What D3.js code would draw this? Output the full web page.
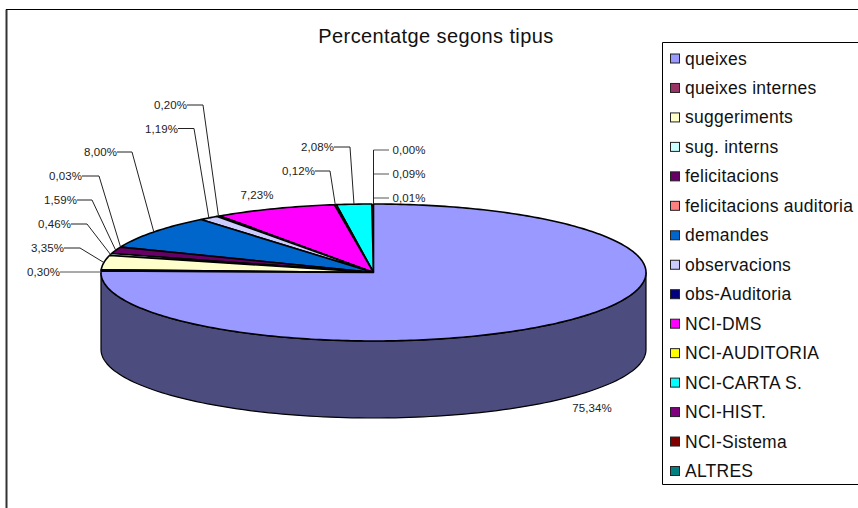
<!DOCTYPE html>
<html><head><meta charset="utf-8">
<script src="https://cdn.jsdelivr.net/npm/d3@7/dist/d3.min.js"></script>
<style>html,body{margin:0;padding:0;background:#fff}svg{display:block}text{font-family:"Liberation Sans",Arial,sans-serif}</style>
</head><body><svg id="c" width="858" height="508"></svg>
<script>
const categories=["queixes","queixes internes","suggeriments","sug. interns","felicitacions","felicitacions auditoria","demandes","observacions","obs-Auditoria","NCI-DMS","NCI-AUDITORIA","NCI-CARTA S.","NCI-HIST.","NCI-Sistema","ALTRES"];
const values=[75.34,0.30,3.35,0.46,1.59,0.03,8.00,1.19,0.20,7.23,0.12,2.08,0.01,0.09,0.00];
const colors=["#9999ff","#993366","#ffffcc","#ccffff","#660066","#ff8080","#0066cc","#ccccff","#000080","#ff00ff","#ffff00","#00ffff","#800080","#800000","#008080"];
const title="Percentatge segons tipus";

// layout of the hand-placed data labels, by slice index: label anchor and leader elbow
const labelLayout={
 0:{x:592,y:408,a:"middle"},
 1:{x:60,y:272,a:"end",elbow:null},
 2:{x:64,y:248,a:"end",elbow:80},
 3:{x:71,y:224,a:"end",elbow:87},
 4:{x:77,y:200,a:"end",elbow:92},
 5:{x:82,y:176,a:"end",elbow:99},
 6:{x:117,y:152,a:"end",elbow:132},
 7:{x:178,y:128.5,a:"end",elbow:194},
 8:{x:187,y:105,a:"end",elbow:203},
 9:{x:257,y:195,a:"middle",noLine:true},
 10:{x:315,y:171,a:"end",elbow:330},
 11:{x:334,y:147,a:"end",elbow:350},
 12:{x:392.5,y:198,a:"start",right:389},
 13:{x:392.5,y:174,a:"start",right:389},
 14:{x:392.5,y:150,a:"start",right:389}
};

const svg=d3.select("#c");
const cx=373.5,cy=272.5,rx=272.5,ry=68.5,depth=77;
const fmt=v=>v.toFixed(2).replace(".",",")+"%";

// frame
svg.append("path").attr("d","M6.5,508V9.5").attr("stroke","#333").attr("stroke-width",2).attr("fill","none");
svg.append("path").attr("d","M6,9.5H858").attr("stroke","#000").attr("stroke-width",1).attr("fill","none");

// title
svg.append("text").attr("x",436).attr("y",43).attr("text-anchor","middle").attr("font-size",20).attr("letter-spacing",0.4).attr("fill","#111").text(title);

// pie
const pie=d3.pie().sort(null).value(d=>d)(values);
const px=a=>cx+rx*Math.sin(a), py=a=>cy-ry*Math.cos(a);
const g=svg.append("g");
const line=d3.line();

// side wall: only the front half (pi/2..3pi/2) is visible
pie.forEach((s,i)=>{
  const a0=Math.max(s.startAngle,Math.PI/2), a1=Math.min(s.endAngle,3*Math.PI/2);
  if(a1<=a0) return;
  const arcA=d3.range(0,121).map(k=>a0+(a1-a0)*k/120);
  const pts=arcA.map(a=>[px(a),py(a)]).concat(arcA.slice().reverse().map(a=>[px(a),py(a)+depth]));
  g.append("path").attr("d",line(pts)+"Z")
    .attr("fill",d3.rgb(colors[i]).darker(1.98).formatHex()).attr("stroke","#000").attr("stroke-width",1.2).attr("stroke-linejoin","round");
});
// top face, last slice first, so that the near-zero slices stay hidden under their neighbours
pie.slice().reverse().forEach(s=>{
  const i=s.index;
  const n=Math.max(2,Math.ceil((s.endAngle-s.startAngle)*60));
  const pts=[[cx,cy]].concat(d3.range(0,n+1).map(k=>{const a=s.startAngle+(s.endAngle-s.startAngle)*k/n;return [px(a),py(a)];}));
  const tiny=values[i]<0.1;
  g.append("path").attr("d",line(pts)+"Z")
    .attr("fill",colors[i]).attr("stroke",tiny?"none":"#000").attr("stroke-width",1.6).attr("stroke-linejoin","round");
});

// leaders and labels
const lg=svg.append("g");
pie.forEach((s,i)=>{
  const L=labelLayout[i], mid=(s.startAngle+s.endAngle)/2;
  const ex=px(mid), ey=py(mid);
  if(L.elbow!==undefined&&L.elbow!==null){
    lg.append("path").attr("d",line([[L.x,L.y],[L.elbow,L.y],[ex,ey]])).attr("fill","none").attr("stroke","#222").attr("stroke-width",1);
  } else if(L.elbow===null){
    lg.append("path").attr("d",line([[L.x,L.y],[ex,L.y]])).attr("fill","none").attr("stroke","#555").attr("stroke-width",1);
  } else if(L.right){
    lg.append("path").attr("d",line([[L.right,L.y],[cx,L.y]])).attr("fill","none").attr("stroke","#555").attr("stroke-width",1);
  }
  lg.append("text").attr("x",L.x).attr("y",L.y+4).attr("text-anchor",L.a).attr("font-size",11.5).attr("letter-spacing",0.1).attr("fill","#222").text(fmt(values[i]));
});
// shared vertical of the right-hand leaders
lg.append("path").attr("d",line([[cx,labelLayout[14].y],[cx,py(0)]])).attr("fill","none").attr("stroke","#222").attr("stroke-width",1);

// legend
svg.append("path").attr("d","M858,42.5H662.5V484.5H858").attr("fill","#fff").attr("stroke","#000").attr("stroke-width",1);
const ly=d3.scalePoint().domain(categories).range([58.5,471]);
const leg=svg.append("g").selectAll("g").data(categories).join("g").attr("transform",d=>`translate(0,${ly(d)})`);
leg.append("rect").attr("x",670.5).attr("y",-4.5).attr("width",9).attr("height",9).attr("fill",(d,i)=>colors[i]).attr("stroke","#222").attr("stroke-width",1);
leg.append("text").attr("x",685).attr("y",6).attr("font-size",17.5).attr("letter-spacing",0.25).attr("fill","#111").text(d=>d);
</script></body></html>
